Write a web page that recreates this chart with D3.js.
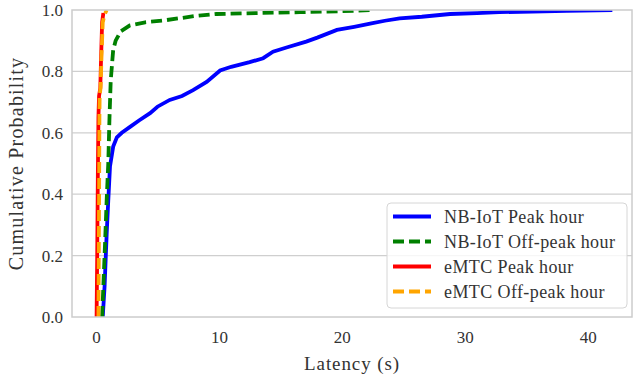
<!DOCTYPE html>
<html lang="en">
<head>
<meta charset="UTF-8">
<title>Latency CDF</title>
<script src="https://d3js.org/d3.v7.min.js"></script>
</head>
<body style="margin:0">
<script>
// values
var nbPeakX = [0.55, 0.7, 0.87, 1.0, 1.14, 1.4, 1.7, 2.1, 2.8, 3.5, 4.4, 5.0, 6.0, 7.0, 7.9, 9.0, 10.1, 11.0, 12.5, 13.6, 14.4, 15.5, 17.1, 18.0, 19.6, 21.0, 22.5, 23.5, 24.7, 26.5, 28.8, 31.0, 32.8, 35.5, 38.3, 42.0];
var nbPeakY = [0.0, 0.1, 0.27, 0.38, 0.49, 0.555, 0.585, 0.6, 0.62, 0.64, 0.664, 0.685, 0.707, 0.72, 0.739, 0.766, 0.803, 0.815, 0.83, 0.843, 0.864, 0.878, 0.897, 0.91, 0.935, 0.945, 0.957, 0.965, 0.973, 0.978, 0.987, 0.99, 0.993, 0.995, 0.997, 1.0];

var nbOffX = [0.5, 0.7, 0.87, 1.0, 1.1, 1.2, 1.4, 1.6, 2.0, 2.76, 4.0, 5.7, 8.0, 9.8, 13.0, 16.6, 20.0, 22.5];
var nbOffY = [0.0, 0.2, 0.38, 0.5, 0.65, 0.77, 0.87, 0.9, 0.93, 0.95, 0.96, 0.967, 0.98, 0.987, 0.99, 0.993, 0.996, 1.0];

var emPeakX = [0.05, 0.1, 0.15, 0.2, 0.25, 0.35, 0.42, 0.5, 0.55, 0.6];
var emPeakY = [0.0, 0.2, 0.45, 0.65, 0.72, 0.745, 0.85, 0.96, 0.975, 0.99];

var emOffX = [0.2, 0.23, 0.26, 0.28, 0.3, 0.38, 0.45, 0.55, 0.7, 0.87];
var emOffY = [0.0, 0.2, 0.45, 0.65, 0.72, 0.75, 0.85, 0.96, 0.985, 1.0];

var xTicks = [0, 10, 20, 30, 40];
var yTicks = [0.0, 0.2, 0.4, 0.6, 0.8, 1.0];

var series = [
  {name: "NB-IoT Peak hour", xs: nbPeakX, ys: nbPeakY, color: "#0000ff", dash: null},
  {name: "NB-IoT Off-peak hour", xs: nbOffX, ys: nbOffY, color: "#008000", dash: "11,5"},
  {name: "eMTC Peak hour", xs: emPeakX, ys: emPeakY, color: "#ff0000", dash: null},
  {name: "eMTC Off-peak hour", xs: emOffX, ys: emOffY, color: "#ffa500", dash: "11,5"}
];

var TXT = "#333";

// font goes in as the only inline style, everything else as attributes
function serif(sel, size, spacing) {
  sel.attr("font-size", size)
     .attr("fill", TXT)
     .attr("letter-spacing", spacing || 0)
     .style("font-family", "'Liberation Serif'");
  return sel;
}

var W = 633, H = 379;
var margin = {left: 72, right: 1, top: 10, bottom: 62};

var svg = d3.select("body").append("svg")
    .attr("width", W)
    .attr("height", H);

var x = d3.scaleLinear().domain([-1.95, 43.6]).range([margin.left, W - margin.right]);
var y = d3.scaleLinear().domain([0, 1]).range([H - margin.bottom, margin.top]);

// grid
svg.append("g").selectAll("line")
  .data(yTicks.slice(1, -1))
  .enter().append("line")
    .attr("x1", x.range()[0]).attr("x2", x.range()[1])
    .attr("y1", function(d) { return y(d); })
    .attr("y2", function(d) { return y(d); })
    .attr("stroke", "#cfcfcf")
    .attr("stroke-width", 1.3);

svg.append("defs").append("clipPath").attr("id", "clip")
  .append("rect")
    .attr("x", x.range()[0]).attr("y", y.range()[1])
    .attr("width", x.range()[1] - x.range()[0])
    .attr("height", y.range()[0] - y.range()[1]);

var line = d3.line()
    .x(function(d) { return x(d[0]); })
    .y(function(d) { return y(d[1]); });

var plot = svg.append("g").attr("clip-path", "url(#clip)");
series.forEach(function(s) {
  var pts = s.xs.map(function(v, i) { return [v, s.ys[i]]; });
  plot.append("path")
    .attr("d", line(pts))
    .attr("fill", "none")
    .attr("stroke", s.color)
    .attr("stroke-width", 3.8)
    .attr("stroke-dasharray", s.dash);
});

// frame
svg.append("rect")
    .attr("x", x.range()[0]).attr("y", y.range()[1])
    .attr("width", x.range()[1] - x.range()[0])
    .attr("height", y.range()[0] - y.range()[1])
    .attr("fill", "none")
    .attr("stroke", "#cccccc")
    .attr("stroke-width", 1.5);

// axes
var xAxis = svg.append("g")
    .attr("transform", "translate(0," + y.range()[0] + ")")
    .call(d3.axisBottom(x).tickValues(xTicks).tickSize(0).tickPadding(14).tickFormat(d3.format("d")));
var yAxis = svg.append("g")
    .attr("transform", "translate(" + x.range()[0] + ",0)")
    .call(d3.axisLeft(y).tickValues(yTicks).tickSize(0).tickPadding(9).tickFormat(d3.format(".1f")));
[xAxis, yAxis].forEach(function(a) {
  a.attr("font-family", null).attr("font-size", null);
  a.select(".domain").remove();
  serif(a.selectAll("text"), 17);
});

serif(svg.append("text"), 19, 0.9)
    .attr("x", (x.range()[0] + x.range()[1]) / 2)
    .attr("y", 370)
    .attr("text-anchor", "middle")
    .text("Latency (s)");

serif(svg.append("text"), 20, 1.2)
    .attr("transform", "translate(23," + ((y.range()[0] + y.range()[1]) / 2) + ") rotate(-90)")
    .attr("text-anchor", "middle")
    .text("Cumulative Probability");

// legend
var legend = svg.append("g").attr("transform", "translate(387,203)");
legend.append("rect")
    .attr("width", 240).attr("height", 105)
    .attr("rx", 4)
    .attr("fill", "#fff").attr("fill-opacity", 0.8)
    .attr("stroke", "#d6d6d6").attr("stroke-width", 1);

series.forEach(function(s, i) {
  var yy = 13.5 + i * 25;
  legend.append("line")
    .attr("x1", 6).attr("x2", 44)
    .attr("y1", yy).attr("y2", yy)
    .attr("stroke", s.color)
    .attr("stroke-width", 3.8)
    .attr("stroke-dasharray", s.dash);
  serif(legend.append("text"), 18, 0.4)
    .attr("x", 57).attr("y", yy)
    .attr("dy", "0.35em")
    .text(s.name);
});
</script>
</body>
</html>
